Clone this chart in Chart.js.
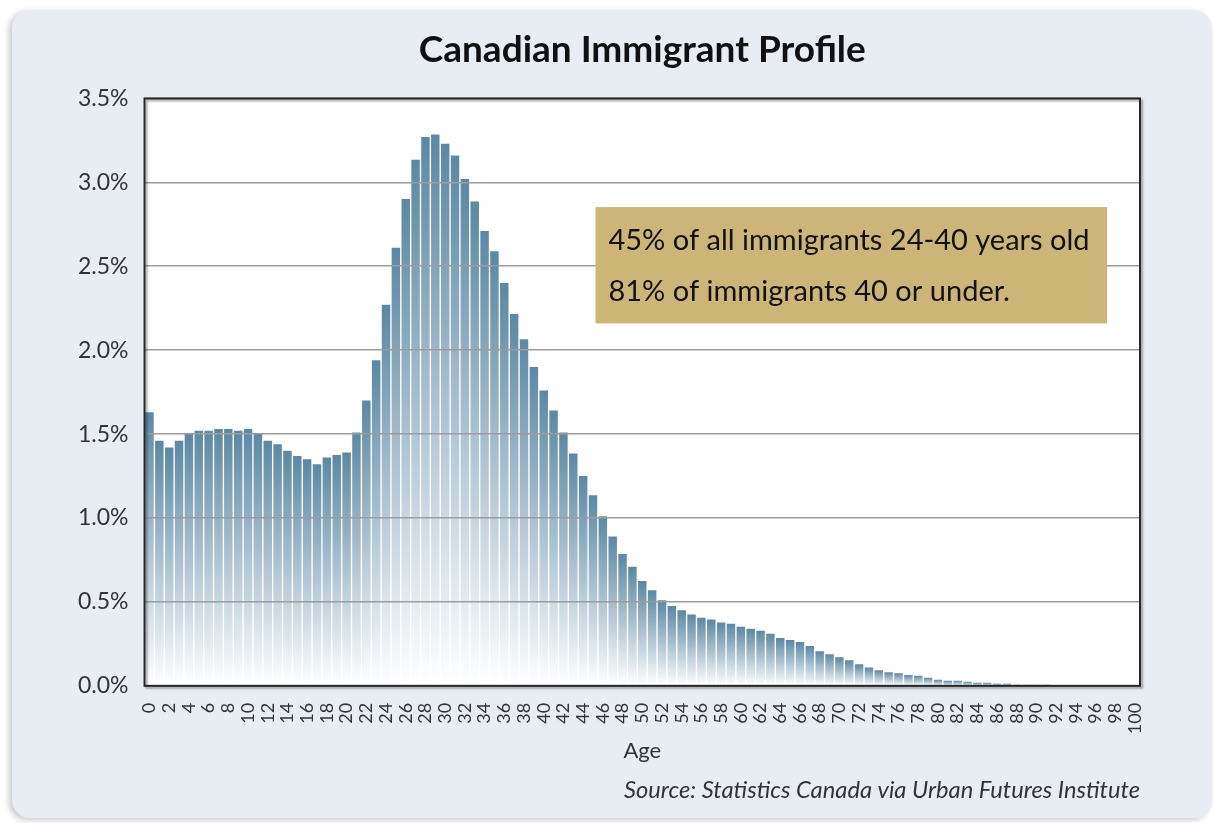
<!DOCTYPE html>
<html>
<head>
<meta charset="utf-8">
<title>Canadian Immigrant Profile</title>
<script src="https://cdn.jsdelivr.net/npm/chart.js@4.4.1/dist/chart.umd.min.js"></script>
<style>
  html, body { margin: 0; padding: 0; background: #fff; }
  .card {
    position: absolute; left: 12px; top: 10px; width: 1200px; height: 808px;
    background: #e8edf4; border-radius: 18px;
    box-shadow: -3px 2px 6px rgba(0, 0, 0, 0.22);
  }
  .wrap { position: absolute; left: 0; top: 0; width: 1214px; height: 823px; }
</style>
</head>
<body>
<div class="card"></div>
<div class="wrap"><canvas id="chart" width="1214" height="823"></canvas></div>
<script>
// Age of immigrants, single years 0-100
const ages = [
  0, 1, 2, 3, 4, 5, 6, 7, 8, 9, 10, 11, 12, 13, 14, 15, 16, 17, 18, 19,
  20, 21, 22, 23, 24, 25, 26, 27, 28, 29, 30, 31, 32, 33, 34, 35, 36, 37, 38, 39,
  40, 41, 42, 43, 44, 45, 46, 47, 48, 49, 50, 51, 52, 53, 54, 55, 56, 57, 58, 59,
  60, 61, 62, 63, 64, 65, 66, 67, 68, 69, 70, 71, 72, 73, 74, 75, 76, 77, 78, 79,
  80, 81, 82, 83, 84, 85, 86, 87, 88, 89, 90, 91, 92, 93, 94, 95, 96, 97, 98, 99, 100
];

// Share of all immigrants at each age (%)
const sharePct = [
  1.63, 1.46, 1.42, 1.46, 1.50, 1.52, 1.52, 1.53, 1.53, 1.52,
  1.53, 1.50, 1.46, 1.44, 1.40, 1.37, 1.35, 1.32, 1.36, 1.375,
  1.39, 1.51, 1.70, 1.94, 2.27, 2.61, 2.90, 3.135, 3.27, 3.285,
  3.23, 3.16, 3.02, 2.885, 2.71, 2.59, 2.40, 2.215, 2.065, 1.90,
  1.76, 1.64, 1.51, 1.385, 1.25, 1.135, 1.01, 0.89, 0.785, 0.71,
  0.625, 0.57, 0.51, 0.475, 0.45, 0.425, 0.405, 0.395, 0.378, 0.37,
  0.352, 0.34, 0.328, 0.31, 0.285, 0.273, 0.261, 0.237, 0.206, 0.188,
  0.17, 0.152, 0.128, 0.109, 0.093, 0.081, 0.075, 0.065, 0.06, 0.048,
  0.036, 0.03, 0.03, 0.024, 0.018, 0.018, 0.012, 0.012, 0.006, 0.006,
  0.006, 0.006, 0, 0, 0, 0, 0, 0, 0, 0, 0
];

const yTicks = [0, 0.5, 1.0, 1.5, 2.0, 2.5, 3.0, 3.5];

const noteLines = [
  '45% of all immigrants 24-40 years old',
  '81% of immigrants 40 or under.'
];

const FONT = 'Lato';
const BAR_TOP = '#5b88a4';
const BAR_BOTTOM = '#ffffff';

// each bar fades from steel blue at its top to white at the baseline
function barGradient(ctx) {
  const chart = ctx.chart;
  if (!chart.chartArea || !ctx.parsed) return BAR_TOP;
  const y = chart.scales.y;
  const top = y.getPixelForValue(ctx.parsed.y);
  const bottom = y.getPixelForValue(0);
  if (bottom - top < 1) return BAR_TOP;
  const g = chart.ctx.createLinearGradient(0, top, 0, bottom);
  g.addColorStop(0, BAR_TOP);
  g.addColorStop(1, BAR_BOTTOM);
  return g;
}

// white plot background + dark frame
const plotFrame = {
  id: 'plotFrame',
  beforeDraw(chart) {
    const { ctx, chartArea: a } = chart;
    ctx.save();
    ctx.fillStyle = '#ffffff';
    ctx.fillRect(a.left, a.top, a.right - a.left, a.bottom - a.top);
    ctx.restore();
  },
  afterDraw(chart) {
    const { ctx, chartArea: a } = chart;
    ctx.save();
    ctx.shadowColor = 'rgba(0, 0, 0, 0.35)';
    ctx.shadowOffsetX = 2;
    ctx.shadowOffsetY = 2;
    ctx.shadowBlur = 2;
    ctx.strokeStyle = '#262626';
    ctx.lineWidth = 2;
    ctx.strokeRect(a.left, a.top, a.right - a.left, a.bottom - a.top);
    ctx.restore();
  }
};

// tan call-out box with the two summary lines
const noteBox = {
  id: 'noteBox',
  afterDraw(chart) {
    const { ctx, chartArea: a } = chart;
    const w = a.right - a.left, h = a.bottom - a.top;
    const x0 = a.left + w * 0.453, x1 = a.left + w * 0.967;
    const y0 = a.top + h * 0.185, y1 = a.top + h * 0.383;
    ctx.save();
    ctx.fillStyle = '#cdb577';
    ctx.fillRect(x0, y0, x1 - x0, y1 - y0);
    ctx.fillStyle = '#111';
    ctx.font = '29px ' + FONT;
    ctx.textBaseline = 'middle';
    ctx.fillText(noteLines[0], x0 + 13, y0 + 34);
    ctx.fillText(noteLines[1], x0 + 13, y0 + 85);
    ctx.restore();
  }
};

new Chart(document.getElementById('chart'), {
  type: 'bar',
  data: {
    labels: ages,
    datasets: [{
      data: sharePct,
      backgroundColor: barGradient,
      borderWidth: 0,
      barPercentage: 0.86,
      categoryPercentage: 1.0
    }]
  },
  options: {
    responsive: false,
    animation: false,
    layout: { padding: { left: 62, right: 74, top: 0, bottom: 18 } },
    plugins: {
      legend: { display: false },
      tooltip: { enabled: false },
      title: {
        display: true,
        fullSize: false,
        text: 'Canadian Immigrant Profile',
        color: '#111',
        font: { family: FONT, size: 37, weight: 'bold' },
        padding: { top: 28, bottom: 26 }
      },
      subtitle: {
        display: true,
        position: 'bottom',
        align: 'end',
        text: 'Source: Statistics Canada via Urban Futures Institute',
        color: '#333',
        font: { family: FONT, size: 23.7, style: 'italic' },
        padding: { top: 12, bottom: 0 }
      }
    },
    scales: {
      x: {
        grid: { display: false, drawTicks: false },
        border: { display: false },
        ticks: {
          autoSkip: false,
          minRotation: 90,
          maxRotation: 90,
          padding: 17,
          color: '#333',
          font: { family: FONT, size: 18 },
          callback: (v, i) => (i % 2 === 0 ? String(ages[i]) : '')
        },
        title: {
          display: true,
          text: 'Age',
          color: '#333',
          font: { family: FONT, size: 22 },
          padding: { top: -13, bottom: 0 }
        }
      },
      y: {
        min: 0,
        max: 3.5,
        afterBuildTicks: (scale) => { scale.ticks = yTicks.map(v => ({ value: v })); },
        grid: { color: '#9c9c9c', lineWidth: 1.5, drawTicks: false, z: 1 },
        border: { display: false },
        ticks: {
          padding: 16,
          color: '#333',
          font: { family: FONT, size: 23 },
          callback: (v) => v.toFixed(1) + '%'
        }
      }
    }
  },
  plugins: [plotFrame, noteBox]
});
</script>
</body>
</html>
